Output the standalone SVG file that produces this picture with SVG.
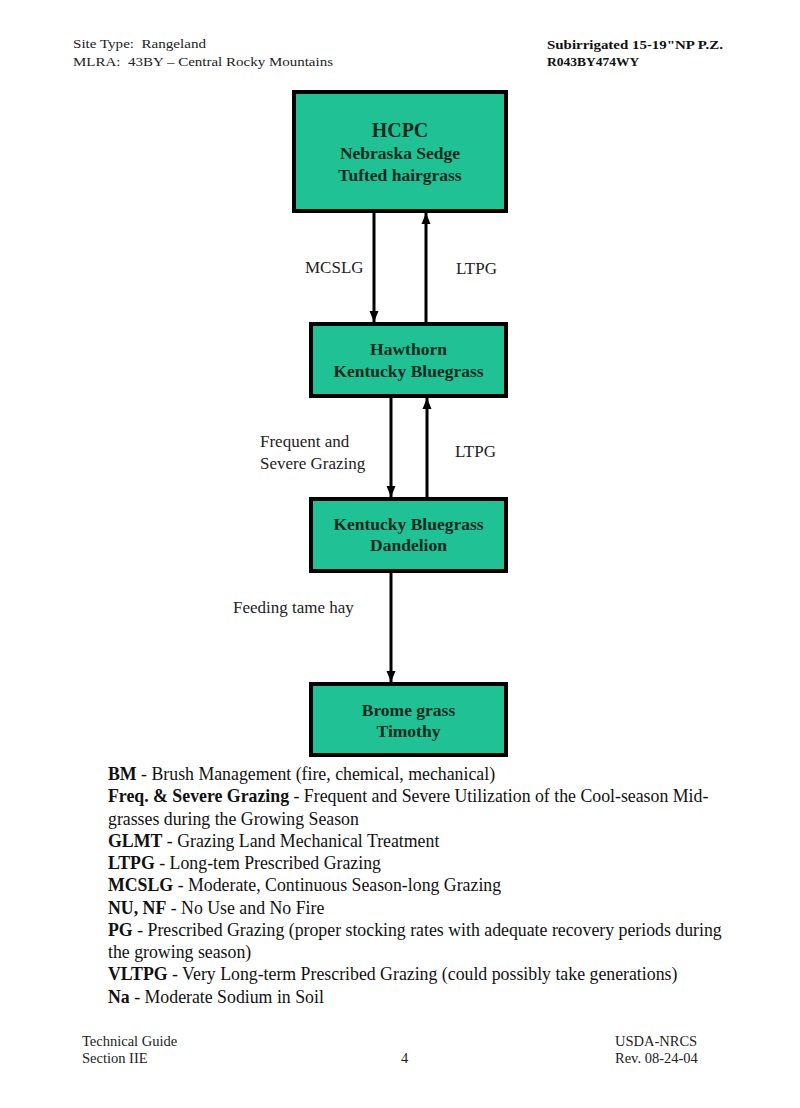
<svg xmlns="http://www.w3.org/2000/svg" width="800" height="1108" viewBox="0 0 800 1108" xml:space="preserve">
<style>
.hdr{font-family:"Liberation Serif","Times New Roman",serif;font-size:13.5px;fill:#222;white-space:pre}
.hdrb{font-family:"Liberation Serif","Times New Roman",serif;font-size:13.5px;font-weight:bold;fill:#111}
.ftr{font-family:"Liberation Serif","Times New Roman",serif;font-size:14.5px;fill:#222}
.box{fill:#20c194;stroke:#000;stroke-width:4}
.nt{font-family:"Liberation Serif","Times New Roman",serif;font-weight:bold;font-size:17.5px;fill:#0b2b1f;text-anchor:middle}
.lbl{font-family:"Liberation Serif","Times New Roman",serif;font-size:17px;fill:#222}
.leg{font-family:"Liberation Serif","Times New Roman",serif;font-size:17.8px;fill:#111}
.leg tspan.b{font-weight:bold}
.conn{stroke:#000;stroke-width:3;fill:none}
</style>
<defs>
<marker id="ah" markerUnits="userSpaceOnUse" markerWidth="12" markerHeight="12" viewBox="0 0 12 12" refX="11" refY="6" orient="auto">
<path d="M0,1.5 L11,6 L0,10.5 Z" fill="#000"/>
</marker>
</defs>
<rect width="800" height="1108" fill="#fff"/>
<g id="header">
<text class="hdr" x="73" y="48" textLength="133" lengthAdjust="spacingAndGlyphs">Site Type:  Rangeland</text>
<text class="hdr" x="73" y="66" textLength="260" lengthAdjust="spacingAndGlyphs">MLRA:  43BY – Central Rocky Mountains</text>
<text class="hdrb" x="547" y="49" textLength="176" lengthAdjust="spacingAndGlyphs">Subirrigated 15-19"NP P.Z.</text>
<text class="hdrb" x="547" y="66">R043BY474WY</text>
</g>
<g id="connectors">
<line class="conn" x1="374" y1="213" x2="374" y2="322" marker-end="url(#ah)"/>
<line class="conn" x1="426" y1="322" x2="426" y2="213" marker-end="url(#ah)"/>
<line class="conn" x1="391" y1="398" x2="391" y2="497" marker-end="url(#ah)"/>
<line class="conn" x1="427" y1="497" x2="427" y2="398" marker-end="url(#ah)"/>
<line class="conn" x1="391" y1="573" x2="391" y2="682" marker-end="url(#ah)"/>
<text class="lbl" x="305" y="273">MCSLG</text>
<text class="lbl" x="456" y="274">LTPG</text>
<text class="lbl" x="260" y="447">Frequent and</text>
<text class="lbl" x="260" y="469">Severe Grazing</text>
<text class="lbl" x="455" y="457">LTPG</text>
<text class="lbl" x="233" y="613">Feeding tame hay</text>
</g>
<g id="node-hcpc">
<rect class="box" x="294" y="92" width="212" height="119"/>
<text class="nt" x="400" y="137" style="font-size:20px">HCPC</text>
<text class="nt" x="400" y="159">Nebraska Sedge</text>
<text class="nt" x="400" y="181">Tufted hairgrass</text>
</g>
<g id="node-hawthorn">
<rect class="box" x="311" y="324" width="195" height="72"/>
<text class="nt" x="408.5" y="355">Hawthorn</text>
<text class="nt" x="408.5" y="377">Kentucky Bluegrass</text>
</g>
<g id="node-kbg">
<rect class="box" x="311" y="499" width="195" height="72"/>
<text class="nt" x="408.5" y="530">Kentucky Bluegrass</text>
<text class="nt" x="408.5" y="551">Dandelion</text>
</g>
<g id="node-brome">
<rect class="box" x="311" y="684" width="195" height="71"/>
<text class="nt" x="408.5" y="716">Brome grass</text>
<text class="nt" x="408.5" y="737">Timothy</text>
</g>
<g id="legend">
<text class="leg" x="108" y="780"><tspan class="b">BM</tspan> - Brush Management (fire, chemical, mechanical)</text>
<text class="leg" x="108" y="802"><tspan class="b">Freq. &amp; Severe Grazing</tspan> - Frequent and Severe Utilization of the Cool-season Mid-</text>
<text class="leg" x="108" y="825">grasses during the Growing Season</text>
<text class="leg" x="108" y="847"><tspan class="b">GLMT</tspan> - Grazing Land Mechanical Treatment</text>
<text class="leg" x="108" y="869"><tspan class="b">LTPG</tspan> - Long-tem Prescribed Grazing</text>
<text class="leg" x="108" y="891"><tspan class="b">MCSLG</tspan> - Moderate, Continuous Season-long Grazing</text>
<text class="leg" x="108" y="914"><tspan class="b">NU, NF</tspan> - No Use and No Fire</text>
<text class="leg" x="108" y="936"><tspan class="b">PG</tspan> - Prescribed Grazing (proper stocking rates with adequate recovery periods during</text>
<text class="leg" x="108" y="958">the growing season)</text>
<text class="leg" x="108" y="980"><tspan class="b">VLTPG</tspan> - Very Long-term Prescribed Grazing (could possibly take generations)</text>
<text class="leg" x="108" y="1003"><tspan class="b">Na</tspan> - Moderate Sodium in Soil</text>
</g>
<g id="footer">
<text class="ftr" x="82" y="1046">Technical Guide</text>
<text class="ftr" x="82" y="1063">Section IIE</text>
<text class="ftr" x="401" y="1063">4</text>
<text class="ftr" x="615" y="1046">USDA-NRCS</text>
<text class="ftr" x="615" y="1063">Rev. 08-24-04</text>
</g>
</svg>
